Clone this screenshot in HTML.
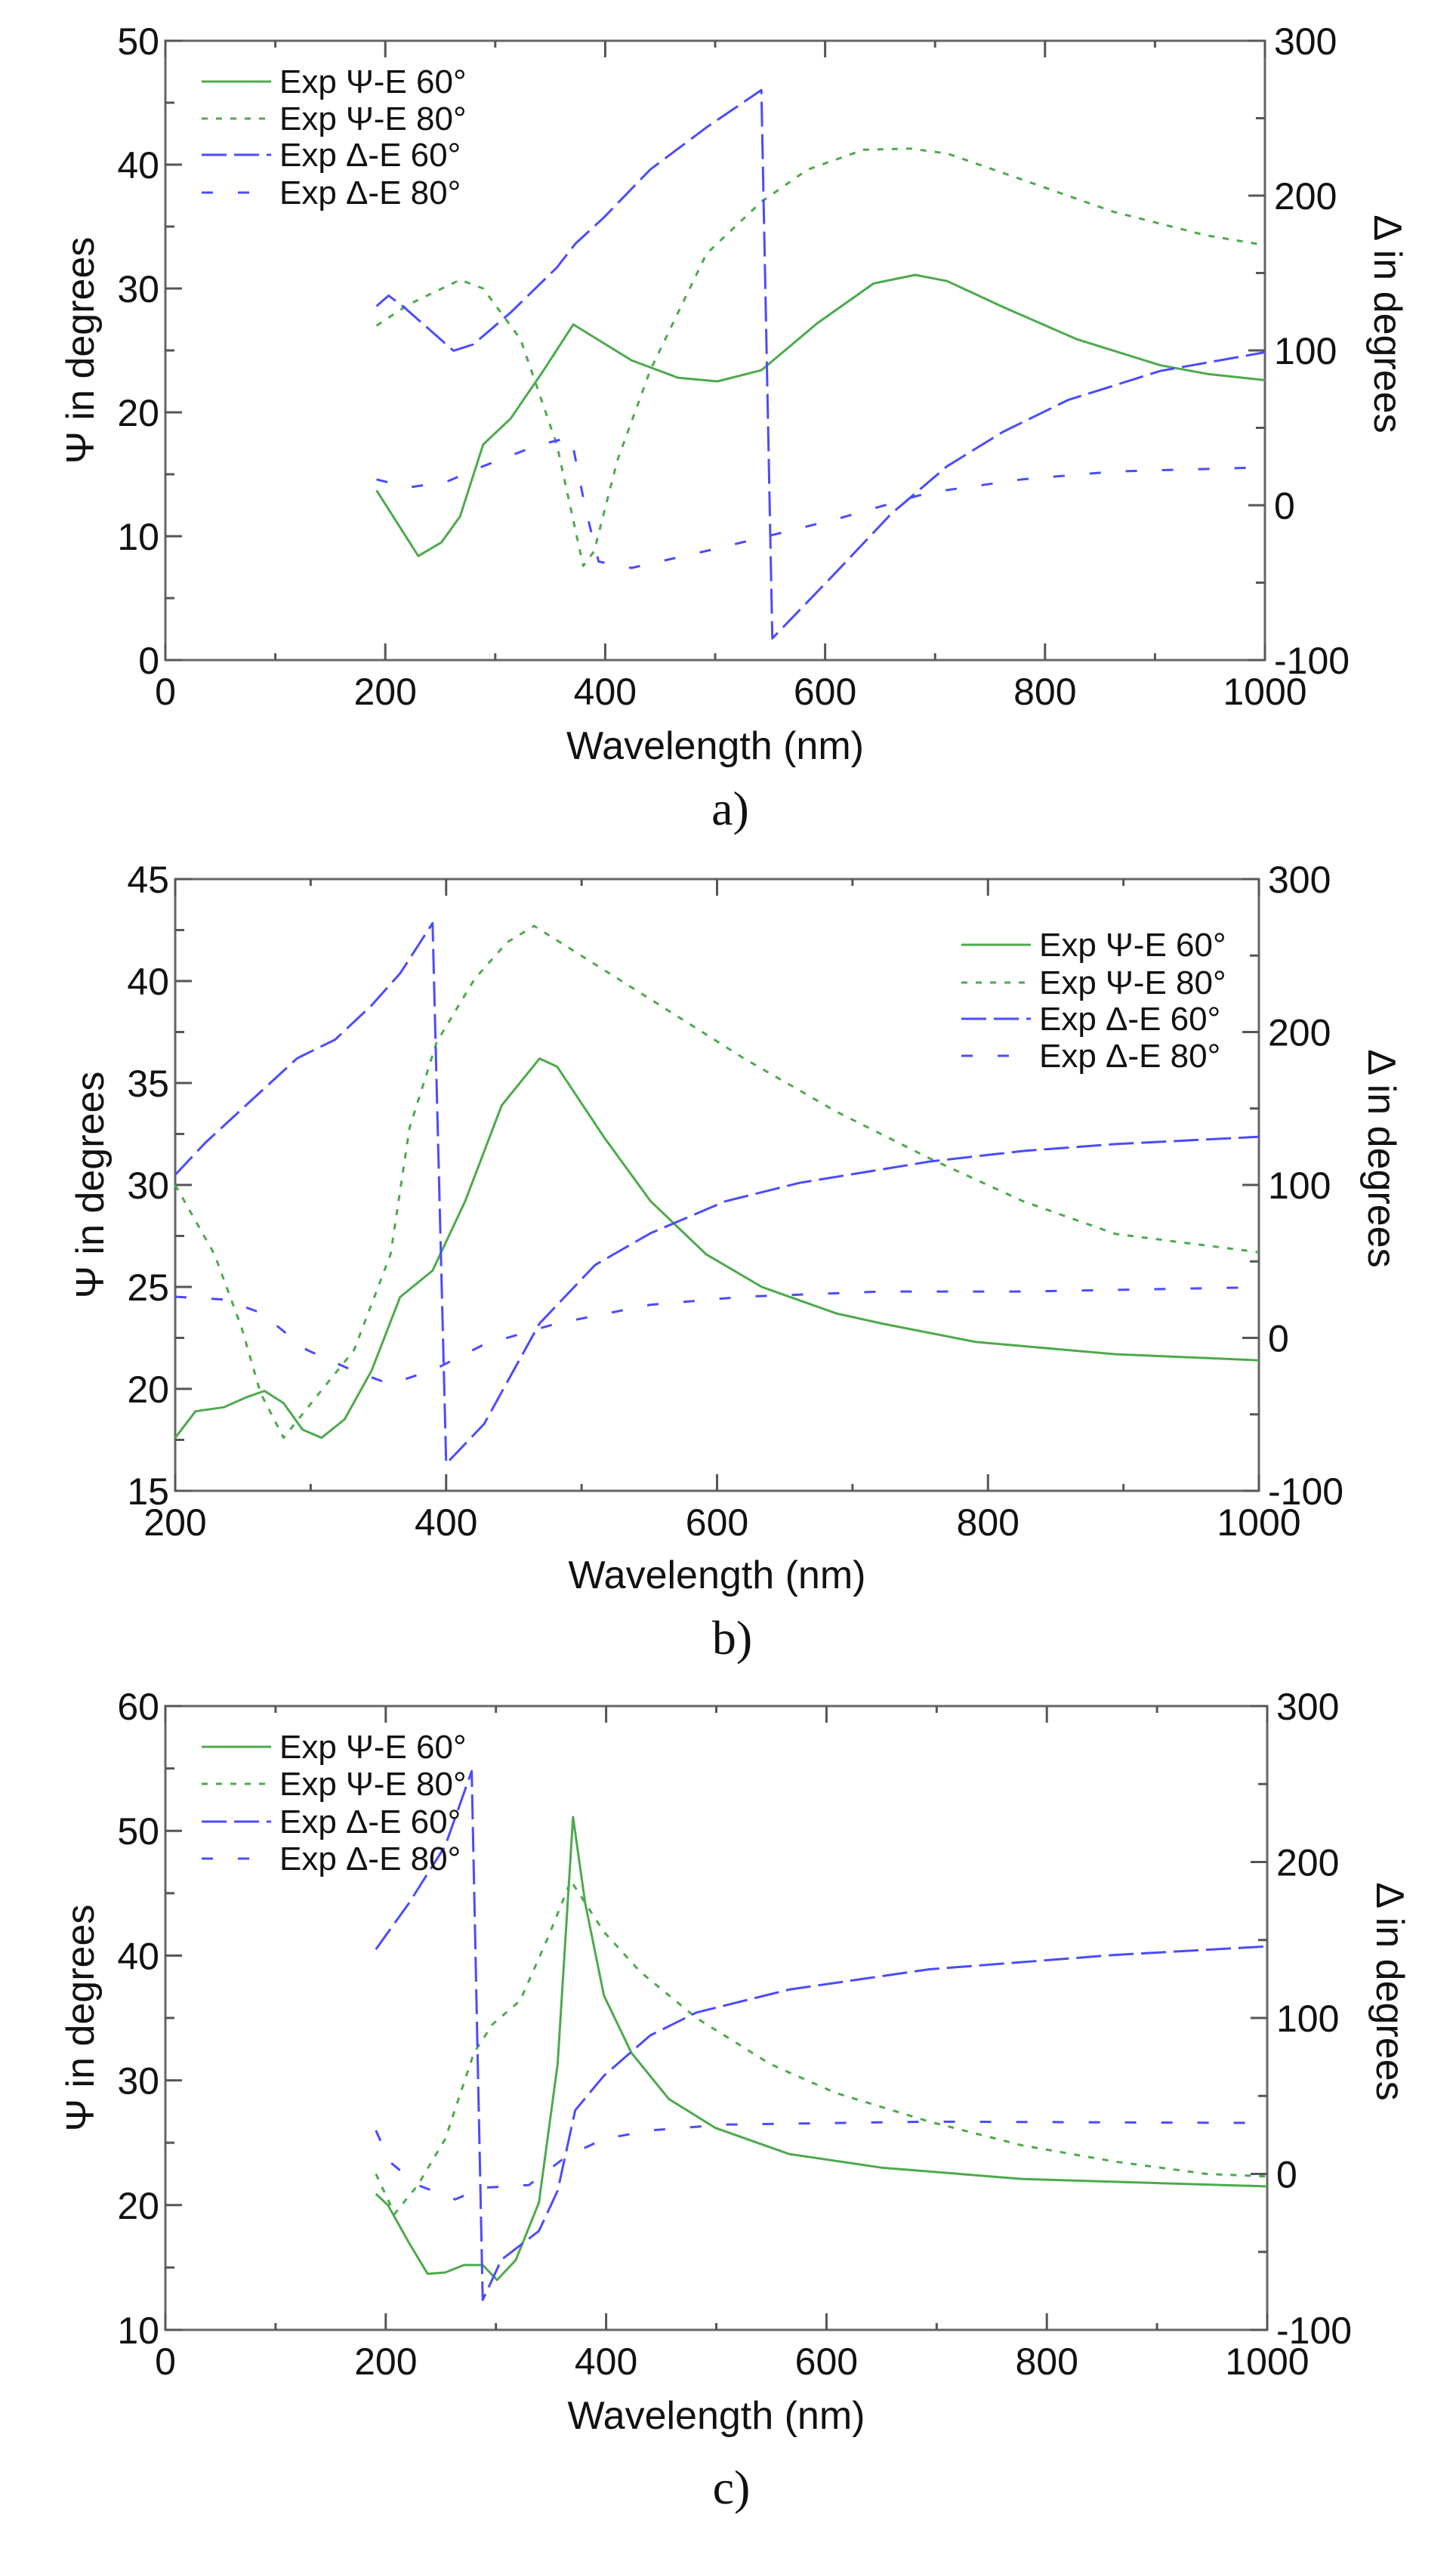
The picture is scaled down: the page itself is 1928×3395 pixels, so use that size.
<!DOCTYPE html>
<html><head><meta charset="utf-8">
<style>
html,body{margin:0;padding:0;background:#fff;}
svg{display:block;}
text{font-family:"Liberation Sans",Arial,sans-serif;fill:#111;}
.cap{font-family:"Liberation Serif",serif;}
</style></head>
<body>
<svg id="fig" width="1928" height="3395" viewBox="0 0 1928 3395" xmlns="http://www.w3.org/2000/svg"></svg>
<script>
// ---- Chart a data ----
const aPsi60X=[192,230,251,268,289,314,344,371,424,466,502,542,593,644,682,711,762,829,905,948,1000];
const aPsi60Y=[13.7,8.4,9.5,11.6,17.4,19.5,23.4,27.1,24.2,22.8,22.5,23.4,27.2,30.4,31.1,30.6,28.5,25.9,23.8,23.1,22.6];
const aPsi80X=[192,221,268,289,323,356,380,390,411,441,492,542,584,635,677,711,779,862,946,1000];
const aPsi80Y=[27.0,28.7,30.7,30.0,25.9,17.4,7.6,8.8,16.1,23.4,32.8,37.0,39.6,41.2,41.3,40.9,38.8,36.2,34.3,33.5];
const aDel60X=[192,203,217,262,280,314,356,373,399,441,492,542,552,610,660,711,762,821,905,1000];
const aDel60Y=[128.6,135.4,127.9,99.8,103.9,124.5,153.5,169,186,216.9,244,268.2,-86,-43.2,-5.6,25.2,47.5,68,86.8,98.8];
const aDel80X=[192,221,255,289,339,369,382,394,424,492,542,610,694,779,863,1000];
const aDel80Y=[16.7,11.5,15,25.2,38.9,44,-2.1,-36.4,-40.5,-29.5,-21,-9,8.1,16.7,21.8,24.5];
// ---- Chart b data ----
const bPsi60X=[200,215,236,253,266,280,294,308,325,345,366,390,414,441,469,482,517,551,592,633,688,722,791,894,1000];
const bPsi60Y=[17.6,18.9,19.1,19.6,19.9,19.3,18.0,17.6,18.5,20.9,24.5,25.8,29.2,33.9,36.2,35.8,32.3,29.2,26.6,25.0,23.7,23.2,22.3,21.7,21.4];
const bPsi80X=[200,229,249,263,280,304,332,359,373,393,421,445,465,496,551,620,688,757,826,894,1000];
const bPsi80Y=[30.0,26.6,23.0,19.8,17.6,19.6,21.9,26.6,32.8,37.0,40.1,41.9,42.7,41.4,39.1,36.2,33.6,31.3,29.2,27.6,26.7];
const bDel60X=[200,222,256,290,318,345,366,390,400,428,469,510,551,606,661,757,826,894,1000];
const bDel60Y=[106.6,127.4,155.1,182.8,195,217.5,238.3,271.2,-82.3,-56.3,9.5,47.7,68.5,89.3,101.4,115.3,122.2,126.7,131.5];
const bDel80X=[200,236,263,297,332,359,393,428,482,551,620,722,826,1000];
const bDel80Y=[26.9,25.1,16.5,-7.8,-21.7,-30.3,-19.9,-4.3,9.5,21.7,26.9,30.3,30.3,33.1];
// ---- Chart c data ----
const cPsi60X=[191,202,221,238,254,271,288,301,318,339,356,370,381,398,423,457,499,566,650,777,1000];
const cPsi60Y=[20.9,20.0,17.0,14.5,14.6,15.2,15.2,14.0,15.6,20.2,31.3,51.1,44.2,36.8,32.2,28.5,26.2,24.1,23.0,22.1,21.5];
const cPsi80X=[191,208,229,254,280,297,322,347,368,398,431,482,549,608,693,777,861,945,1000];
const cPsi80Y=[22.5,19.3,21.6,25.3,32.2,34.5,36.4,41.4,46.0,41.9,38.7,35.0,31.3,29.0,26.7,24.8,23.5,22.5,22.3];
const cDel60X=[191,221,254,278,288,305,339,356,372,398,440,482,566,693,861,1000];
const cDel60Y=[144,173.5,210.4,258.3,-80.8,-55,-36.6,-10.8,40.8,63,88.8,103.5,118.2,131.2,140.4,145.9];
const cDel80X=[191,204,229,263,288,330,364,398,440,507,693,1000];
const cDel80Y=[27.9,7.6,-7.1,-16.3,-8.9,-7.1,11.3,22.4,27.9,31.6,33.5,32.7];
// ---- tick labels ----
const xTicksA=[0,200,400,600,800,1000];
const xTicksB=[200,400,600,800,1000];
const psiTicksA=[0,10,20,30,40,50];
const psiTicksB=[15,20,25,30,35,40,45];
const psiTicksC=[10,20,30,40,50,60];
const delTicks=[-100,0,100,200,300];
const legendLabels=["Exp \u03A8-E 60\u00B0","Exp \u03A8-E 80\u00B0","Exp \u0394-E 60\u00B0","Exp \u0394-E 80\u00B0"];

const NS="http://www.w3.org/2000/svg";
const fig=document.getElementById('fig');
function mk(tag,attrs,parent){const e=document.createElementNS(NS,tag);for(const k in attrs)e.setAttribute(k,attrs[k]);(parent||fig).appendChild(e);return e;}

const GREEN="#4caa4c", BLUE="#4b4bff";
const styles=[{c:GREEN,d:""},{c:GREEN,d:"8 11"},{c:BLUE,d:"33 10"},{c:BLUE,d:"15 33"}];

function chart(cfg){
  const g=mk('g',{});
  
  
  const L=cfg.L,R=cfg.R,T=cfg.T,B=cfg.B;
  const sx=v=>L+(v-cfg.x0)/(cfg.x1-cfg.x0)*(R-L);
  const sy=v=>B-(v-cfg.p0)/(cfg.p1-cfg.p0)*(B-T);
  const sd=v=>B-(v+100)/400*(B-T);
  // frame
  const fr=mk('rect',{x:L,y:T,width:R-L,height:B-T,fill:'none',stroke:'#666','stroke-width':3},g);
  
  
  // x ticks
  const xstep=100;
  for(let v=cfg.x0;v<=cfg.x1+0.1;v+=xstep){
    const maj=(Math.round(v)%200===0);const len=maj?22:9;const x=sx(v);
    mk('line',{x1:x,y1:B,x2:x,y2:B-len,stroke:'#555','stroke-width':3},g);
    mk('line',{x1:x,y1:T,x2:x,y2:T+len,stroke:'#555','stroke-width':3},g);
  }
  xTicksFor(cfg).forEach(v=>{
    const t=mk('text',{x:sx(v),y:cfg.xly,'font-size':50,'text-anchor':'middle'},g);t.textContent=v;
    
    
  });
  // psi ticks
  for(let v=cfg.p0;v<=cfg.p1+0.01;v+=cfg.pminor){
    const maj=Math.abs(((v-cfg.p0)/cfg.pmajor)-Math.round((v-cfg.p0)/cfg.pmajor))<1e-6;
    const y=sy(v);mk('line',{x1:L,y1:y,x2:L+(maj?22:12),y2:y,stroke:'#555','stroke-width':3},g);
  }
  cfg.pt.forEach(v=>{
    const t=mk('text',{x:L-8,y:sy(v)+18,'font-size':50,'text-anchor':'end'},g);t.textContent=v;
    
    
  });
  // delta ticks
  for(let v=-100;v<=300;v+=50){
    const maj=(v%100===0);const y=sd(v);
    mk('line',{x1:R,y1:y,x2:R-(maj?22:12),y2:y,stroke:'#555','stroke-width':3},g);
  }
  delTicks.forEach(v=>{
    const t=mk('text',{x:R+12,y:sd(v)+18,'font-size':50},g);t.textContent=v;
    
    
  });
  // titles
  const xt=mk('text',{x:(L+R)/2,y:cfg.xty,'font-size':52,'text-anchor':'middle'},g);xt.textContent='Wavelength (nm)';
  
  
  const cy=(T+B)/2;
  const yt=mk('text',{x:0,y:0,'font-size':52,'text-anchor':'middle',transform:`translate(${L-95},${cy}) rotate(-90)`},g);yt.textContent='\u03A8 in degrees';
  
  
  const yt2=mk('text',{x:0,y:0,'font-size':52,'text-anchor':'middle',transform:`translate(${R+145},${cy-35}) rotate(90)`},g);yt2.textContent='\u0394 in degrees';
  
  
  const cap=mk('text',{x:(L+R)/2+20,y:cfg.capy,'font-size':64,'text-anchor':'middle',class:'cap'},g);cap.textContent=cfg.cap;
  
  
  // series
  const series=[[cfg.s[0],cfg.s[1],sy],[cfg.s[2],cfg.s[3],sy],[cfg.s[4],cfg.s[5],sd],[cfg.s[6],cfg.s[7],sd]];
  const names=['psi-60-line','psi-80-line','delta-60-line','delta-80-line'];
  series.forEach((s,i)=>{
    const pts=s[0].map((x,j)=>sx(x).toFixed(1)+','+s[2](s[1][j]).toFixed(1)).join(' ');
    const p=mk('polyline',{points:pts,fill:'none',stroke:styles[i].c,'stroke-width':3,'stroke-dasharray':styles[i].d,'stroke-linejoin':'round'},g);
    
    
  });
  // legend
  const lg=mk('g',{},g);
  
  
  legendLabels.forEach((lab,i)=>{
    const y=cfg.lgy[i];
    mk('line',{x1:cfg.lgx,y1:y,x2:cfg.lgx+92,y2:y,stroke:styles[i].c,'stroke-width':3,'stroke-dasharray':styles[i].d},lg);
    const t=mk('text',{x:cfg.lgx+103,y:y+15,'font-size':44},lg);t.textContent=lab;
    
    
  });
}
function xTicksFor(cfg){return cfg.xt;}

chart({name:'chart-a',L:219,R:1675,T:54,B:874,x0:0,x1:1000,p0:0,p1:50,pmajor:10,pminor:5,pt:psiTicksA,xt:xTicksA,
  xly:933,xty:1005,capy:1092,cap:'a)',lgx:267,lgy:[108,157,205,255],
  s:[aPsi60X,aPsi60Y,aPsi80X,aPsi80Y,aDel60X,aDel60Y,aDel80X,aDel80Y]});
chart({name:'chart-b',L:232,R:1667,T:1164,B:1974,x0:200,x1:1000,p0:15,p1:45,pmajor:5,pminor:2.5,pt:psiTicksB,xt:xTicksB,
  xly:2033,xty:2103,capy:2190,cap:'b)',lgx:1273,lgy:[1251,1301,1349,1398],
  s:[bPsi60X,bPsi60Y,bPsi80X,bPsi80Y,bDel60X,bDel60Y,bDel80X,bDel80Y]});
chart({name:'chart-c',L:219,R:1678,T:2259,B:3085,x0:0,x1:1000,p0:10,p1:60,pmajor:10,pminor:5,pt:psiTicksC,xt:xTicksA,
  xly:3144,xty:3216,capy:3315,cap:'c)',lgx:267,lgy:[2313,2362,2412,2461],
  s:[cPsi60X,cPsi60Y,cPsi80X,cPsi80Y,cDel60X,cDel60Y,cDel80X,cDel80Y]});
</script>
</body></html>
